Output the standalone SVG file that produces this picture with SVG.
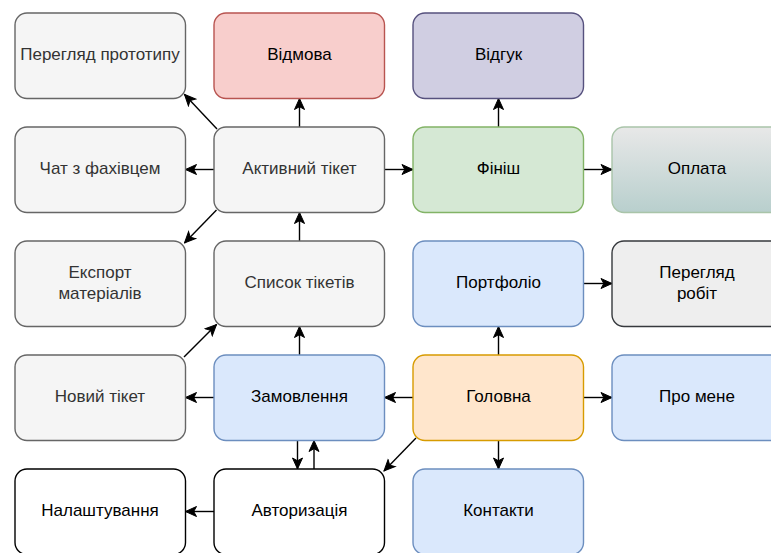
<svg xmlns="http://www.w3.org/2000/svg" width="771" height="553" viewBox="0 0 771 553">
<style>
.n rect{stroke-width:1.4}
.n text{font-family:"Liberation Sans",Arial,sans-serif;font-size:17px;text-anchor:middle;dominant-baseline:central}
.grey rect{fill:#f5f5f5;stroke:#666666}
.grey text{fill:#333333}
.red rect{fill:#f8cecc;stroke:#b85450}
.purple rect{fill:#d0cee2;stroke:#56517e}
.green rect{fill:#d5e8d4;stroke:#82b366}
.blue rect{fill:#dae8fc;stroke:#6c8ebf}
.orange rect{fill:#ffe6cc;stroke:#d79b00}
.white rect{fill:#ffffff;stroke:#000000}
.dark rect{fill:#eeeeee;stroke:#36393d}
.pay rect{fill:url(#payg);stroke:#a9c4a9}
.e line{stroke:#000000;stroke-width:1.4;marker-end:url(#arr)}
</style>
<defs>
<marker id="arr" markerUnits="userSpaceOnUse" markerWidth="13" markerHeight="13" viewBox="0 0 13 13" refX="12" refY="6.5" orient="auto">
<path d="M1,1.5 L12,6.5 L1,11.5 L3.8,6.5 Z" fill="#000000" stroke="#000000" stroke-width="1"/>
</marker>
<linearGradient id="payg" x1="0" y1="0" x2="0" y2="1">
<stop offset="0" stop-color="#e8e8e8"/>
<stop offset="1" stop-color="#b8cfcd"/>
</linearGradient>
</defs>
<g id="connectors" class="e">
<line x1="217" y1="129" x2="184.5" y2="94.5"/>
<line x1="299.5" y1="127" x2="299.5" y2="98.5"/>
<line x1="214" y1="169.5" x2="185.5" y2="169.5"/>
<line x1="216.5" y1="210" x2="184.5" y2="243"/>
<line x1="384.5" y1="169.5" x2="413" y2="169.5"/>
<line x1="498.5" y1="127" x2="498.5" y2="98.5"/>
<line x1="583.5" y1="169.5" x2="612" y2="169.5"/>
<line x1="299.5" y1="241" x2="299.5" y2="212.5"/>
<line x1="299.5" y1="355" x2="299.5" y2="326.5"/>
<line x1="184" y1="357" x2="216.5" y2="324.5"/>
<line x1="214" y1="397.5" x2="185.5" y2="397.5"/>
<line x1="413" y1="397.5" x2="384.5" y2="397.5"/>
<line x1="297.5" y1="440.5" x2="297.5" y2="469"/>
<line x1="314" y1="469" x2="314" y2="440.5"/>
<line x1="416" y1="438" x2="384" y2="471"/>
<line x1="214" y1="511.5" x2="185.5" y2="511.5"/>
<line x1="498.5" y1="355" x2="498.5" y2="326.5"/>
<line x1="583.5" y1="283.5" x2="612" y2="283.5"/>
<line x1="583.5" y1="397.5" x2="612" y2="397.5"/>
<line x1="498.5" y1="440.5" x2="498.5" y2="469"/>
</g>
<g id="n-prototype" class="n grey"><rect x="15" y="13" width="170.5" height="85.5" rx="12"/><text x="100" y="54.5">Перегляд прототипу</text></g>
<g id="n-vidmova" class="n red"><rect x="214" y="13" width="170.5" height="85.5" rx="12"/><text x="299.5" y="54.5">Відмова</text></g>
<g id="n-vidguk" class="n purple"><rect x="413" y="13" width="170.5" height="85.5" rx="12"/><text x="498.5" y="54.5">Відгук</text></g>
<g id="n-chat" class="n grey"><rect x="15" y="127" width="170.5" height="85.5" rx="12"/><text x="100" y="168.5">Чат з фахівцем</text></g>
<g id="n-active" class="n grey"><rect x="214" y="127" width="170.5" height="85.5" rx="12"/><text x="299.5" y="168.5">Активний тікет</text></g>
<g id="n-finish" class="n green"><rect x="413" y="127" width="170.5" height="85.5" rx="12"/><text x="498.5" y="168.5">Фініш</text></g>
<g id="n-payment" class="n pay"><rect x="612" y="127" width="170.5" height="85.5" rx="12"/><text x="697" y="168.5">Оплата</text></g>
<g id="n-export" class="n grey"><rect x="15" y="241" width="170.5" height="85.5" rx="12"/><text x="100" y="272">Експорт</text><text x="100" y="293">матеріалів</text></g>
<g id="n-list" class="n grey"><rect x="214" y="241" width="170.5" height="85.5" rx="12"/><text x="299.5" y="282.5">Список тікетів</text></g>
<g id="n-portfolio" class="n blue"><rect x="413" y="241" width="170.5" height="85.5" rx="12"/><text x="498.5" y="282.5">Портфоліо</text></g>
<g id="n-works" class="n dark"><rect x="612" y="241" width="170.5" height="85.5" rx="12"/><text x="697" y="272">Перегляд</text><text x="697" y="293">робіт</text></g>
<g id="n-newticket" class="n grey"><rect x="15" y="355" width="170.5" height="85.5" rx="12"/><text x="100" y="396.5">Новий тікет</text></g>
<g id="n-order" class="n blue"><rect x="214" y="355" width="170.5" height="85.5" rx="12"/><text x="299.5" y="396.5">Замовлення</text></g>
<g id="n-main" class="n orange"><rect x="413" y="355" width="170.5" height="85.5" rx="12"/><text x="498.5" y="396.5">Головна</text></g>
<g id="n-about" class="n blue"><rect x="612" y="355" width="170.5" height="85.5" rx="12"/><text x="697" y="396.5">Про мене</text></g>
<g id="n-settings" class="n white"><rect x="15" y="469" width="170.5" height="85.5" rx="12"/><text x="100" y="510.5">Налаштування</text></g>
<g id="n-auth" class="n white"><rect x="214" y="469" width="170.5" height="85.5" rx="12"/><text x="299.5" y="510.5">Авторизація</text></g>
<g id="n-contacts" class="n blue"><rect x="413" y="469" width="170.5" height="85.5" rx="12"/><text x="498.5" y="510.5">Контакти</text></g>
</svg>
